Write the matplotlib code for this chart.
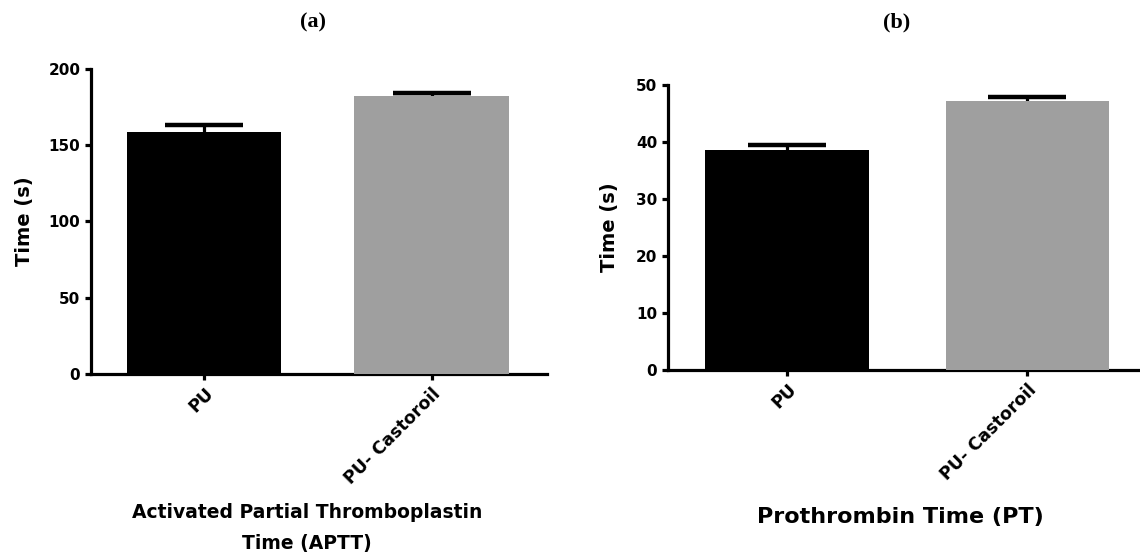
import matplotlib
matplotlib.use("Agg")
import matplotlib.pyplot as plt

categories = ["PU", "PU- Castoroil"]
aptt_values = [158.9, 182.5]
aptt_errors = [4.2, 1.6]
pt_values = [38.6, 47.2]
pt_errors = [0.8, 0.7]
aptt_ticks = [0, 50, 100, 150, 200]
pt_ticks = [0, 10, 20, 30, 40, 50]
bar_colors = ["#000000", "#9f9f9f"]

fig = plt.figure(figsize=(11.4, 5.54), dpi=100)
sans = ["DejaVu Sans"]
serif = ["Liberation Serif", "DejaVu Serif"]

def style(ax):
    for s in ["top", "right"]:
        ax.spines[s].set_visible(False)
    for s in ["left", "bottom"]:
        ax.spines[s].set_linewidth(2.3)
    ax.tick_params(axis="both", width=2.3, length=4, direction="out")
    for lab in ax.get_yticklabels():
        lab.set_fontfamily(sans); lab.set_fontweight("bold"); lab.set_fontsize(11)

def panel(ax, vals, errs, ticks, ylim, xlim, labelpad):
    x = list(range(len(categories)))
    ax.bar(x, vals, width=0.68, color=bar_colors, zorder=3)
    ax.errorbar(x, vals, yerr=errs, fmt="none", ecolor="black", elinewidth=2.3,
                capsize=28, capthick=3.2, zorder=2)
    ax.set_xlim(*xlim)
    ax.set_ylim(*ylim)
    ax.set_yticks(ticks)
    ax.set_xticks(x)
    ax.set_xticklabels(categories, rotation=45, ha="right", rotation_mode="anchor",
                       fontfamily=sans, fontweight="bold", fontsize=12.5)
    ax.set_ylabel("Time (s)", fontfamily=sans, fontweight="bold", fontsize=14,
                  labelpad=labelpad)
    style(ax)

axa = fig.add_axes([0.0796, 0.3249, 0.400, 0.5506])
panel(axa, aptt_values, aptt_errors, aptt_ticks, (0, 200), (-0.497, 1.504), 10)
axb = fig.add_axes([0.5857, 0.3321, 0.4143, 0.5145])
panel(axb, pt_values, pt_errors, pt_ticks, (0, 50), (-0.497, 1.47), 12)

fig.text(313/1140, 1-22/554, "(a)", ha="center", va="center", fontfamily=serif,
         fontweight="bold", fontsize=16)
fig.text(897/1140, 1-22/554, "(b)", ha="center", va="center", fontfamily=serif,
         fontweight="bold", fontsize=16)
fig.text(307/1140, 1-513/554, "Activated Partial Thromboplastin", ha="center", va="center",
         fontfamily=sans, fontweight="bold", fontsize=13.5)
fig.text(307/1140, 1-543/554, "Time (APTT)", ha="center", va="center",
         fontfamily=sans, fontweight="bold", fontsize=13.5)
fig.text(900/1140, 1-517/554, "Prothrombin Time (PT)", ha="center", va="center",
         fontfamily=sans, fontweight="bold", fontsize=16)

fig.savefig("out.png", dpi=100)
